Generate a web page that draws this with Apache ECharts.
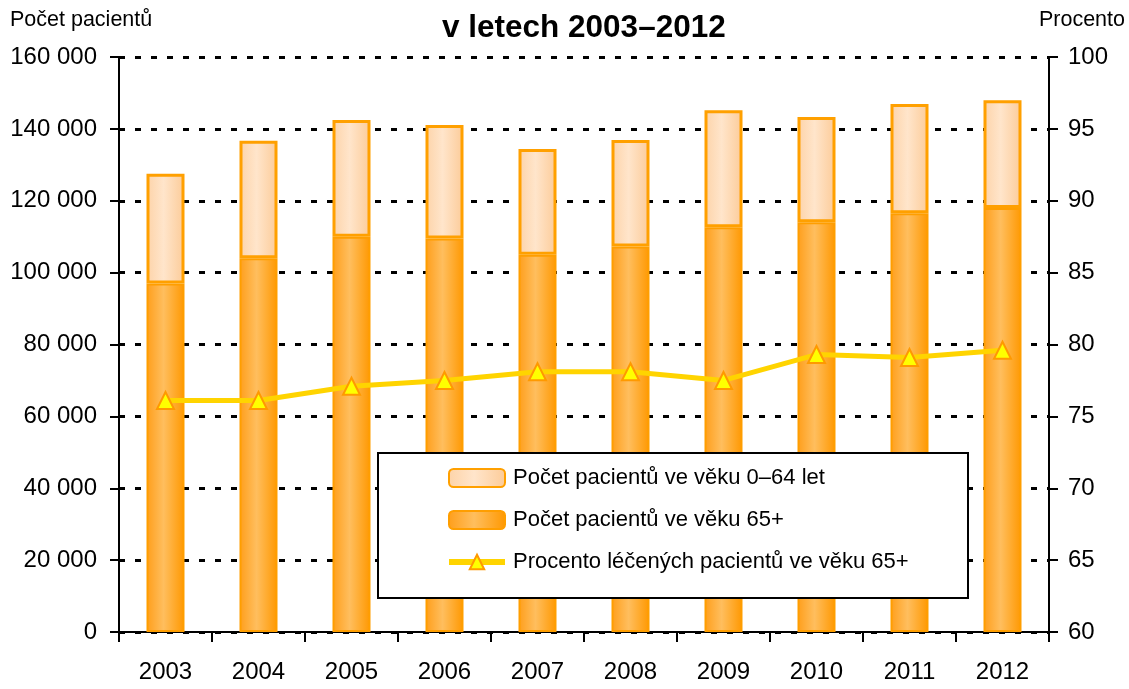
<!DOCTYPE html>
<html>
<head>
<meta charset="utf-8">
<script src="https://cdn.jsdelivr.net/npm/echarts@6/dist/echarts.min.js"></script>
<style>
  html, body { margin: 0; padding: 0; background: #fff; }
  #chart { width: 1129px; height: 689px; }
</style>
</head>
<body>
<div id="chart"></div>
<script>
// data
const years = ['2003', '2004', '2005', '2006', '2007', '2008', '2009', '2010', '2011', '2012'];
const age65plus = [97000, 104000, 110000, 109500, 105000, 107300, 112600, 114000, 116500, 118000];
const age0to64 = [30500, 32700, 32500, 31600, 29400, 29600, 32600, 29300, 30400, 30000];
const percent65 = [76.1, 76.1, 77.1, 77.5, 78.1, 78.1, 77.5, 79.3, 79.1, 79.6];
const leftTicks = [0, 160000, 20000];   // min, max, interval
const rightTicks = [60, 100, 5];

const FONT = '"Liberation Sans", Arial, sans-serif';

const darkGrad = new echarts.graphic.LinearGradient(0, 0, 1, 0, [
    { offset: 0, color: '#FF9E1A' },
    { offset: 0.45, color: '#FFBE5E' },
    { offset: 1, color: '#FF9800' }
]);
const lightGrad = new echarts.graphic.LinearGradient(0, 0, 1, 0, [
    { offset: 0, color: '#FDD3A8' },
    { offset: 0.45, color: '#FFE5CB' },
    { offset: 1, color: '#FCCB98' }
]);

const chart = echarts.init(document.getElementById('chart'));

chart.setOption({
    animation: false,
    backgroundColor: '#fff',
    textStyle: { fontFamily: FONT, color: '#000' },
    title: {
        text: 'v letech 2003–2012',
        left: 437,
        top: 7,
        textStyle: { fontFamily: FONT, fontSize: 31.5, fontWeight: 'bold', color: '#000' }
    },
    graphic: [
        {
            type: 'rect',
            left: 377, top: 452,
            shape: { width: 590, height: 145 },
            style: { fill: '#fff', stroke: '#000', lineWidth: 2 },
            z: 50
        }
    ],
    legend: {
        orient: 'vertical',
        left: 441,
        top: 462,
        itemWidth: 56,
        itemHeight: 18,
        itemGap: 20,
        z: 60,
        lineStyle: { width: 6 },
        data: ['Počet pacientů ve věku 0–64 let', 'Počet pacientů ve věku 65+', 'Procento léčených pacientů ve věku 65+'],
        textStyle: { fontFamily: FONT, fontSize: 22, color: '#000', padding: [0, 0, 0, 3] }
    },
    grid: { left: 119, right: 80, top: 57, bottom: 57 },
    xAxis: {
        type: 'category',
        data: years,
        axisLine: { lineStyle: { color: '#000', width: 2 } },
        axisTick: { show: true, length: 10, lineStyle: { color: '#000', width: 2 } },
        axisLabel: { fontFamily: FONT, fontSize: 24, color: '#000', margin: 28 }
    },
    yAxis: [
        {
            type: 'value',
            name: 'Počet pacientů',
            nameLocation: 'end',
            nameGap: 26,
            nameTextStyle: { fontFamily: FONT, fontSize: 21.5, color: '#000', align: 'left', padding: [0, 0, 0, -109] },
            min: leftTicks[0], max: leftTicks[1], interval: leftTicks[2],
            axisLine: { show: true, lineStyle: { color: '#000', width: 2 } },
            axisTick: { show: true, length: 9, lineStyle: { color: '#000', width: 2 } },
            axisLabel: {
                fontFamily: FONT, fontSize: 24, color: '#000', margin: 22,
                formatter: v => v === 0 ? '0' : String(v).replace(/\B(?=(\d{3})+(?!\d))/g, ' ')
            },
            splitLine: { show: true, lineStyle: { color: '#000', width: 3, type: [6, 10] } }
        },
        {
            type: 'value',
            name: 'Procento',
            nameLocation: 'end',
            nameGap: 26,
            nameTextStyle: { fontFamily: FONT, fontSize: 21.5, color: '#000', align: 'right', padding: [0, -76, 0, 0] },
            min: rightTicks[0], max: rightTicks[1], interval: rightTicks[2],
            axisLine: { show: true, lineStyle: { color: '#000', width: 2 } },
            axisTick: { show: true, length: 9, lineStyle: { color: '#000', width: 2 } },
            axisLabel: { fontFamily: FONT, fontSize: 24, color: '#000', margin: 19 },
            splitLine: { show: false }
        }
    ],
    series: [
        {
            name: 'Počet pacientů ve věku 65+',
            type: 'bar',
            stack: 'total',
            barWidth: 38,
            data: age65plus,
            itemStyle: { color: darkGrad, borderColor: '#FF9E00', borderWidth: 2 }
        },
        {
            name: 'Počet pacientů ve věku 0–64 let',
            type: 'bar',
            stack: 'total',
            barWidth: 38,
            data: age0to64,
            itemStyle: { color: lightGrad, borderColor: '#FFA000', borderWidth: 3 }
        },
        {
            name: 'Procento léčených pacientů ve věku 65+',
            type: 'line',
            yAxisIndex: 1,
            data: percent65,
            z: 10,
            symbol: 'triangle',
            symbolSize: 17,
            lineStyle: { color: '#FFD400', width: 5 },
            itemStyle: { color: '#FFFF00', borderColor: '#FF9900', borderWidth: 2 }
        }
    ]
});
</script>
</body>
</html>
